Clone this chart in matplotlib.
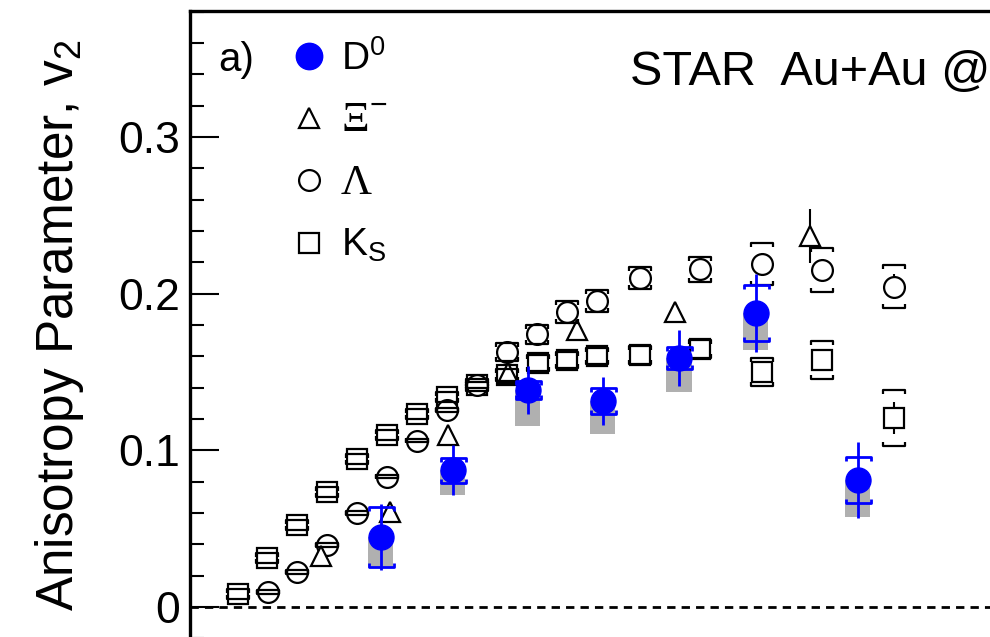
import numpy as np
import matplotlib
matplotlib.use('Agg')
import matplotlib.pyplot as plt
from matplotlib.path import Path
from matplotlib.lines import Line2D

plt.rcParams['font.family'] = ['Liberation Sans', 'DejaVu Sans']
plt.rcParams['mathtext.fontset'] = 'custom'
plt.rcParams['mathtext.rm'] = 'Liberation Sans'
plt.rcParams['mathtext.it'] = 'Liberation Sans:italic'

# ---------------- data ----------------
ks_pt = [0.32, 0.51, 0.71, 0.91, 1.11, 1.31, 1.51, 1.71, 1.91, 2.11, 2.32, 2.51, 2.71, 3.00, 3.40, 3.81, 4.21, 4.69]
ks_v2 = [0.0083, 0.0313, 0.0523, 0.0734, 0.0945, 0.1098, 0.1232, 0.1340, 0.1417, 0.1480, 0.1557, 0.1577, 0.1602, 0.1608, 0.1647, 0.1500, 0.1577, 0.1206]
ks_stat = [0.001, 0.001, 0.001, 0.001, 0.001, 0.001, 0.001, 0.001, 0.001, 0.001, 0.001, 0.002, 0.002, 0.002, 0.003, 0.004, 0.007, 0.010]
ks_sys = [0.003, 0.003, 0.003, 0.003, 0.003, 0.003, 0.003, 0.003, 0.004, 0.004, 0.005, 0.005, 0.005, 0.006, 0.006, 0.009, 0.012, 0.018]

la_pt = [0.52, 0.71, 0.91, 1.11, 1.31, 1.51, 1.71, 1.91, 2.11, 2.31, 2.51, 2.71, 3.00, 3.40, 3.81, 4.21, 4.69]
la_v2 = [0.0096, 0.0223, 0.0396, 0.0600, 0.0832, 0.1060, 0.1257, 0.1417, 0.1628, 0.1740, 0.1880, 0.1953, 0.2100, 0.2157, 0.2190, 0.2150, 0.2045]
la_stat = [0.001, 0.001, 0.001, 0.001, 0.001, 0.001, 0.001, 0.001, 0.002, 0.002, 0.002, 0.002, 0.003, 0.003, 0.004, 0.006, 0.008]
la_sys = [0.001, 0.001, 0.001, 0.001, 0.001, 0.001, 0.001, 0.002, 0.006, 0.006, 0.007, 0.007, 0.007, 0.008, 0.0135, 0.014, 0.0135]

xi_pt = [0.87, 1.33, 1.72, 2.12, 2.58, 3.23, 4.13]
xi_v2 = [0.0326, 0.0606, 0.1098, 0.1494, 0.1768, 0.1880, 0.2368]
xi_stat = [0.006, 0.004, 0.004, 0.004, 0.005, 0.006, 0.017]

d0_pt = [1.27, 1.75, 2.25, 2.75, 3.26, 3.77, 4.45]
d0_v2 = [0.0447, 0.0874, 0.1385, 0.1315, 0.1590, 0.1875, 0.0810]
d0_stat = [0.021, 0.016, 0.0155, 0.0155, 0.018, 0.025, 0.0245]
d0_sys = [0.019, 0.008, 0.006, 0.0085, 0.007, 0.018, 0.0147]
d0_nonflow = [0.020, 0.016, 0.023, 0.021, 0.022, 0.0235, 0.0234]

legend_labels = ['D$^{\\mathregular{0}}$', '\u039e$^{-}$', '\u039b', 'K$_{\\mathregular{S}}$']
ytick_vals = [0, 0.1, 0.2, 0.3]
ytick_labels = ['0', '0.1', '0.2', '0.3']

# ---------------- figure ----------------
W, H = 990, 637
fig = plt.figure(figsize=(W / 100, H / 100), dpi=100)
ax_left, ax_top, ax_w, ax_bot = 190, 11, 900, 701
ax = fig.add_axes([ax_left / W, 1 - ax_bot / H, ax_w / W, (ax_bot - ax_top) / H])
ax.set_xlim(0, 6)
ax.set_ylim(-0.06, 0.3804)

top_br = Path([(-1, -0.35), (-1, 0), (1, 0), (1, -0.35)],
              [Path.MOVETO, Path.LINETO, Path.LINETO, Path.LINETO])
bot_br = Path([(-1, 0.35), (-1, 0), (1, 0), (1, 0.35)],
              [Path.MOVETO, Path.LINETO, Path.LINETO, Path.LINETO])

ax.axhline(0, color='k', lw=2.0, ls=(0, (3.0, 2.2)), zorder=1)


def black_series(x, y, stat, sys, marker, ms, br_ms):
    x = np.asarray(x); y = np.asarray(y)
    ax.errorbar(x, y, yerr=stat, fmt='none', ecolor='k', elinewidth=1.5, capsize=0, zorder=2)
    ax.plot(x, y, ls='none', marker=marker, ms=ms, mfc='white', mec='k', mew=1.6, zorder=3)
    if sys is not None:
        sys = np.asarray(sys)
        ax.plot(x, y + sys, ls='none', marker=top_br, ms=br_ms, mfc='none', mec='k', mew=1.6, zorder=4)
        ax.plot(x, y - sys, ls='none', marker=bot_br, ms=br_ms, mfc='none', mec='k', mew=1.6, zorder=4)


black_series(ks_pt, ks_v2, ks_stat, ks_sys, 's', 14, 16)
black_series(la_pt, la_v2, la_stat, la_sys, 'o', 15, 16)
black_series(xi_pt, xi_v2, xi_stat, None, '^', 14, 16)

# D0
d0x = np.asarray(d0_pt); d0y = np.asarray(d0_v2)
nf = np.asarray(d0_nonflow)
ax.bar(d0x, nf, bottom=d0y - nf, width=0.17, color='#b0b0b0', zorder=4.5)
ax.errorbar(d0x, d0y, yerr=d0_stat, fmt='none', ecolor='#0000ff', elinewidth=2.0, capsize=0, zorder=5)
ds = np.asarray(d0_sys)
ax.plot(d0x, d0y + ds, ls='none', marker=top_br, ms=18, mfc='none', mec='#0000ff', mew=2.0, zorder=5)
ax.plot(d0x, d0y - ds, ls='none', marker=bot_br, ms=18, mfc='none', mec='#0000ff', mew=2.0, zorder=5)
ax.plot(d0x, d0y, ls='none', marker='o', ms=18, mfc='#0000ff', mec='#0000ff', zorder=6)

# axes style
for s in ax.spines.values():
    s.set_linewidth(2.4)
ax.set_yticks(ytick_vals)
ax.set_yticklabels(ytick_labels)
ax.set_yticks(np.arange(-0.04, 0.381, 0.02), minor=True)
ax.tick_params(axis='y', which='major', direction='in', length=21, width=1.5, labelsize=32, pad=7, right=True)
ax.tick_params(axis='y', which='minor', direction='in', length=10, width=1.5, right=True)
ax.tick_params(axis='x', which='both', bottom=False, top=False, labelbottom=False)

fig.text(60 / W, 1 - 325 / H, 'Anisotropy Parameter, v$_{\\mathregular{2}}$', rotation=90,
         ha='center', va='center', fontsize=37)

# legend
handles = [
    Line2D([], [], ls='none', marker='o', ms=19, mfc='#0000ff', mec='#0000ff'),
    Line2D([], [], ls='none', marker='^', ms=14, mfc='white', mec='k', mew=1.6),
    Line2D([], [], ls='none', marker='o', ms=15, mfc='white', mec='k', mew=1.6),
    Line2D([], [], ls='none', marker='s', ms=14.5, mfc='white', mec='k', mew=1.6),
]
leg = ax.legend(handles, legend_labels, loc='upper left',
                bbox_to_anchor=((290 - ax_left) / ax_w, (ax_bot - 40) / (ax_bot - ax_top)),
                frameon=False, fontsize=28, handlelength=1.0, handletextpad=0.3,
                labelspacing=0.62, borderpad=0, borderaxespad=0)
for t in leg.get_texts()[1:3]:
    t.set_family(['Liberation Serif', 'DejaVu Serif'])
    t.set_fontsize(31)

ax.text((218 - ax_left) / ax_w, (ax_bot - 60) / (ax_bot - ax_top), 'a)', transform=ax.transAxes,
        fontsize=29, ha='left', va='center')
ax.text((630 - ax_left) / ax_w, (ax_bot - 72) / (ax_bot - ax_top), 'STAR  Au+Au @', transform=ax.transAxes,
        fontsize=35, ha='left', va='center')

fig.savefig('out.png', dpi=100)
